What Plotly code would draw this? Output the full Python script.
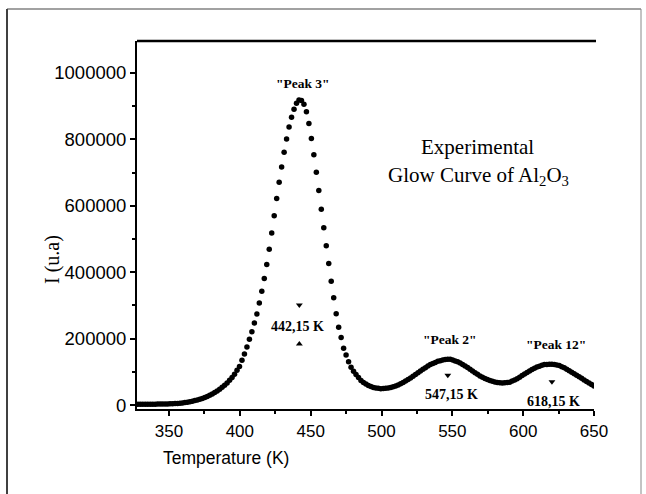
import numpy as np
import plotly.graph_objects as go

# ---------------- data ----------------
T_START, T_STEP = 328.0, 1.75
intensity_k = [
    2, 2, 2, 2, 2, 2.2, 2.3, 2.5, 2.7, 2.9,
    3.0, 3.2, 3.4, 3.6, 4.0, 4.3, 4.9, 5.6, 6.3, 7.4,
    8.6, 9.8, 11.5, 13.3, 15, 17.5, 20, 22.5, 26, 29.5,
    33.3, 37.8, 42.4, 47.5, 53.5, 59.5, 66.6, 74.7, 82.7, 93,
    105, 116, 134.5, 154, 175, 198, 221, 247, 274, 307,
    343, 381, 423, 469, 518, 570, 622, 671, 717, 761,
    801, 837, 867, 891, 909, 919, 917, 906, 883, 848,
    803, 754, 701, 646, 590, 534, 480, 426, 373, 323,
    275, 234, 203, 171, 151, 130, 114, 102, 92, 83,
    74, 68, 63, 59, 56, 53, 51.5, 50.3, 49.3, 49.5,
    50.2, 50.9, 52.8, 54.9, 57, 60.5, 64, 67.6, 72.2, 76.8,
    81.5, 86.8, 92, 97.3, 102.5, 107.8, 112.6, 117.2, 121.7, 125.3,
    128.4, 131.6, 133.5, 135.3, 137, 137.6, 137.5, 135.6, 132.8, 130,
    126.7, 122.2, 117.6, 112.8, 107.5, 102.3, 97.2, 92.3, 87.4, 83.5,
    80, 76.5, 73.9, 71.5, 69, 67.9, 66.9, 66.1, 66.8, 67.5,
    68.9, 72, 75.2, 79.1, 84, 88.9, 93.6, 98.2, 102.7, 106.8,
    110.6, 114.5, 117.1, 119.6, 122, 122.4, 122.7, 122.9, 121.8, 120.8,
    119, 115.5, 112, 108, 103.5, 99, 94.4, 89.8, 85.3, 80.5,
    75.6, 70.7, 66.3, 61.6, 57,
]
temperature = [T_START + T_STEP * i for i in range(len(intensity_k))]
intensity = [v * 1000 for v in intensity_k]

x_ticks = [350, 400, 450, 500, 550, 600, 650]
y_ticks = [0, 200000, 400000, 600000, 800000, 1000000]

# peak marks (arrows) and labels
arrow_down_T = [442, 546.8, 620.3]
arrow_down_V = [301000, 90000, 70000]
arrow_up_T = [442]
arrow_up_V = [184000]

peak_labels = ['"Peak 3"', '"Peak 2"', '"Peak 12"']
peak_label_T = [444.3, 548.4, 622.9]
peak_label_V = [967000, 196000, 181000]
temp_labels = ["442,15 K", "547,15 K", "618,15 K"]
temp_label_T = [440.4, 549.2, 621.2]
temp_label_V = [238000, 33000, 10000]

# ---------------- figure ----------------
W, H = 646, 494
L, R, TOP, B = 137, 52, 41, 85
PW, PH = W - L - R, H - TOP - B

def px_x(px):
    return (px - L) / PW

def px_y(py):
    return (H - B - py) / PH

fig = go.Figure()
fig.add_trace(go.Scatter(
    x=temperature, y=intensity, mode="markers",
    marker=dict(color="black", size=5.5, line=dict(width=0)),
    showlegend=False, hoverinfo="skip",
))
fig.add_trace(go.Scatter(
    x=arrow_down_T, y=arrow_down_V, mode="markers",
    marker=dict(symbol="triangle-down", color="black", size=6),
    showlegend=False, hoverinfo="skip",
))
fig.add_trace(go.Scatter(
    x=arrow_up_T, y=arrow_up_V, mode="markers",
    marker=dict(symbol="triangle-up", color="black", size=6),
    showlegend=False, hoverinfo="skip",
))

serif = "Liberation Serif, Times New Roman, serif"
sans = "Liberation Sans, Arial, sans-serif"

ann = []
for t, xx, yy in zip(peak_labels, peak_label_T, peak_label_V):
    ann.append(dict(x=xx, y=yy, xref="x", yref="y", text="<b>%s</b>" % t,
                    xanchor="center", yanchor="middle",
                    showarrow=False, font=dict(family=serif, size=13.5, color="black")))
for t, xx, yy in zip(temp_labels, temp_label_T, temp_label_V):
    ann.append(dict(x=xx, y=yy, xref="x", yref="y", text="<b>%s</b>" % t,
                    xanchor="center", yanchor="middle",
                    showarrow=False, font=dict(family=serif, size=14, color="black")))
ann.append(dict(x=567.5, y=777000, xref="x", yref="y", text="Experimental",
                xanchor="center", yanchor="middle",
                showarrow=False, font=dict(family=serif, size=21, color="black")))
ann.append(dict(x=568.2, y=690000, xref="x", yref="y",
                text="Glow Curve of Al<sub>2</sub>O<sub>3</sub>",
                xanchor="center", yanchor="middle",
                showarrow=False, font=dict(family=serif, size=21, color="black")))
ann.append(dict(x=px_x(226), y=px_y(458), xref="paper", yref="paper",
                xanchor="center", yanchor="middle",
                text="Temperature (K)", showarrow=False,
                font=dict(family=sans, size=17.5, color="black")))
ann.append(dict(x=px_x(52), y=px_y(260), xref="paper", yref="paper",
                xanchor="center", yanchor="middle",
                text="I (u.a)", textangle=-90, showarrow=False,
                font=dict(family=serif, size=20, color="black")))

shapes = [
    # top thick line of the plot
    dict(type="line", xref="paper", yref="paper", x0=0, x1=px_x(596), y0=1, y1=1,
         line=dict(color="black", width=2.5)),
    # outer frame
    dict(type="line", xref="paper", yref="paper", x0=px_x(7), x1=px_x(7),
         y0=px_y(9), y1=px_y(494), line=dict(color="black", width=1.5)),
    dict(type="line", xref="paper", yref="paper", x0=px_x(7), x1=px_x(641),
         y0=px_y(9), y1=px_y(9), line=dict(color="#444", width=1.2)),
    dict(type="line", xref="paper", yref="paper", x0=px_x(641), x1=px_x(641),
         y0=px_y(9), y1=px_y(494), line=dict(color="#888", width=1)),
]

fig.update_layout(
    width=W, height=H,
    margin=dict(l=L, r=R, t=TOP, b=B),
    paper_bgcolor="white", plot_bgcolor="white",
    annotations=ann, shapes=shapes,
    showlegend=False,
)
fig.update_xaxes(
    range=[327.4, 650], tickvals=x_ticks, ticks="outside", ticklen=5, tickwidth=1.5,
    tickcolor="black", showline=True, linecolor="black", linewidth=2,
    showgrid=False, zeroline=False, ticklabelstandoff=1,
    tickfont=dict(family=sans, size=17, color="black"),
    minor=dict(dtick=25, tick0=0, ticks="outside", ticklen=3, tickcolor="black", showgrid=False),
)
fig.update_yaxes(
    range=[-12000, 1096400], tickvals=y_ticks, tickformat="d", ticks="outside",
    ticklen=5, tickwidth=1.5, tickcolor="black", showline=True, linecolor="black",
    linewidth=2, showgrid=False, zeroline=False,
    tickfont=dict(family=sans, size=18.5, color="black"),
    minor=dict(dtick=100000, tick0=0, ticks="outside", ticklen=3, tickcolor="black", showgrid=False),
)

fig.write_html("out.html")
